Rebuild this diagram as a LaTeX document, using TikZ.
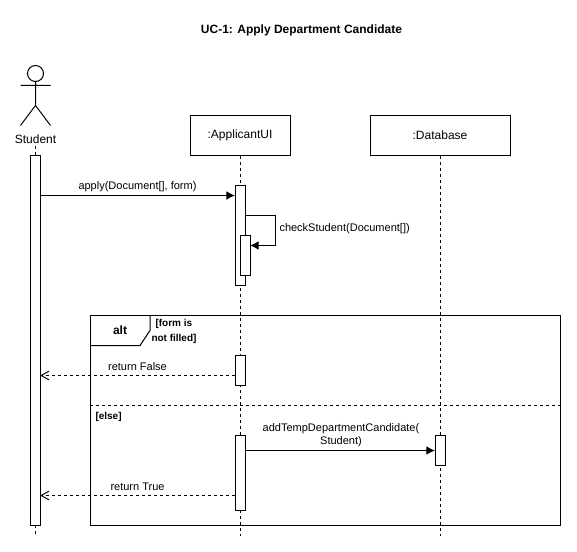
\documentclass[tikz,border=0pt]{standalone}
\usepackage{fontspec}
\setmainfont{Liberation Sans}
\usetikzlibrary{arrows.meta}
\tikzset{
  lifebox/.style={draw, fill=white, minimum height=30pt, inner sep=0pt, font=\fontsize{9}{11}\selectfont},
  activebar/.style={draw, fill=white, minimum width=7.5pt, inner sep=0pt, outer sep=0pt},
  lifeline/.style={dash pattern=on 2.25pt off 2.25pt},
  msg/.style={-{Latex[length=6.5pt, width=6.5pt]}},
  retmsg/.style={dash pattern=on 2.25pt off 2.25pt, -{Straight Barb[length=6pt, width=6.5pt]}},
  msgtext/.style={font=\fontsize{8.25}{9.75}\selectfont, inner sep=0pt, align=center},
  guardtext/.style={font=\fontsize{7.5}{11.25}\selectfont\bfseries, inner sep=0pt, align=left},
}
\begin{document}
\begin{tikzpicture}[x=.75pt, y=-.75pt, line width=.75pt]
  \useasboundingbox (0, -.5) rectangle (577, 551.5);
  \node[font=\fontsize{9}{11}\selectfont\bfseries] (title) at (301.5, 30) {UC-1: Apply Department Candidate};
  % student
  \draw (35.5, 73) circle (8);
  \draw (35.5, 81)--(35.5, 105) (20.5, 85)--(50.5, 85) (20.5, 125)--(35.5, 105)--(50.5, 125);
  \node[font=\fontsize{9}{11}\selectfont] (student) at (35.5, 139) {Student};
  \node[lifebox, minimum width=75pt] (applicantui) at (240, 135) {:ApplicantUI};
  \node[lifebox, minimum width=105pt] (database) at (440, 135) {:Database};
  \coordinate (studentend) at (35, 535);
  \coordinate (applicantend) at (240, 535);
  \coordinate (databaseend) at (440, 535);
  \draw[lifeline] (35, 146)--(studentend);
  \draw[lifeline] (applicantui.south)--(applicantend);
  \draw[lifeline] (database.south)--(databaseend);
  % activation bars
  \node[activebar, minimum height=277.5pt] (studentbar) at (35, 340) {};
  \node[activebar, minimum height=75pt] (checkouter) at (240, 235) {};
  \node[activebar, minimum height=30pt] (checkinner) at (245, 255) {};
  \node[activebar, minimum height=22.5pt] (falsebar) at (240, 370) {};
  \node[activebar, minimum height=56.25pt] (truebar) at (240, 472.5) {};
  \node[activebar, minimum height=22.5pt] (addbar) at (440, 450) {};
  % messages
  \coordinate (applyrow) at (0, 195);
  \coordinate (checkout) at (0, 215);
  \coordinate (checkin) at (0, 245);
  \coordinate (falserow) at (0, 375);
  \coordinate (addrow) at (0, 450);
  \coordinate (truerow) at (0, 495);
  \draw[msg] (studentbar.east |- applyrow)--(checkouter.west |- applyrow);
  \draw[msg] (checkouter.east |- checkout)-|(275, 245)--(checkinner.east |- checkin);
  \draw[retmsg] (falsebar.west |- falserow)--(studentbar.east |- falserow);
  \draw[msg] (truebar.east |- addrow)--(addbar.west |- addrow);
  \draw[retmsg] (truebar.west |- truerow)--(studentbar.east |- truerow);
  \node[msgtext] (applytext) at (137.5, 186.5) {apply(Document[], form)};
  \node[msgtext, anchor=west] (checktext) at (279, 228.5) {checkStudent(Document[])};
  \node[msgtext] (falsetext) at (137.5, 366.5) {return False};
  \node[msgtext] (addtext) at (341, 435) {addTempDepartmentCandidate(\\Student)};
  \node[msgtext] (truetext) at (137.5, 486.5) {return True};
  % alt frame
  \draw (90, 315) rectangle (560, 525);
  \draw (150, 315)--(150, 330)--(140, 345)--(90, 345);
  \draw[lifeline] (90, 405)--(560, 405);
  \node[font=\fontsize{9}{11}\selectfont\bfseries] (alttext) at (120, 329.5) {alt};
  \node[guardtext, anchor=west] (guardone) at (155, 323) {[form is};
  \node[guardtext, anchor=west] (guardtwo) at (151, 338) {not filled]};
  \node[guardtext, anchor=west] (guardelse) at (95, 416) {[else]};
\end{tikzpicture}
\end{document}
